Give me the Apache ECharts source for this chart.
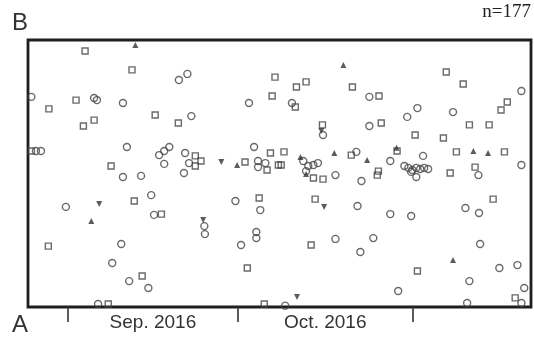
<!DOCTYPE html>
<html>
<head>
<meta charset="utf-8">
<script src="https://cdn.jsdelivr.net/npm/echarts@6/dist/echarts.min.js"></script>
<style>
  html, body { margin: 0; padding: 0; background: #fff; }
  #chart { width: 534px; height: 340px; }
</style>
</head>
<body>
<div id="chart"></div>
<script>
var chart = echarts.init(document.getElementById('chart'));

// x = days from 1 Sep 2016, y = position between A (0) and B (100)
const monthTicks = [0, 30, 61];
const monthLabelPos = [15, 45.5];
const monthLabels = ['Sep. 2016', 'Oct. 2016'];

const circles = [
  [-6.5, 78.7], [4.6, 78.3], [5.1, 77.5], [9.7, 76.4], [-5.7, 58.4], [-4.8, 58.4],
  [10.4, 59.9], [19.6, 85.0], [21.1, 87.3], [32.0, 76.4], [21.8, 71.5], [32.9, 59.9],
  [16.1, 56.9], [17.0, 58.4], [17.9, 59.9], [20.7, 57.7], [21.4, 53.9], [17.0, 53.6],
  [20.5, 50.2], [33.6, 54.7], [34.9, 53.9], [33.6, 52.4], [53.3, 78.7], [39.6, 76.4],
  [60.0, 71.2], [45.1, 64.4], [53.3, 67.8], [41.6, 54.7], [42.5, 52.8], [43.4, 53.2],
  [44.2, 53.9], [42.1, 50.9], [51.0, 58.1], [57.0, 54.7], [59.5, 52.8], [80.2, 80.9],
  [61.8, 74.5], [68.1, 73.0], [62.8, 56.6], [80.2, 53.2], [60.2, 52.1], [60.9, 51.3],
  [61.6, 52.1], [62.3, 51.7], [63.0, 52.1], [63.7, 51.7], [60.7, 50.6], [61.6, 48.7],
  [9.7, 48.7], [12.9, 49.1], [14.7, 41.9], [-0.4, 37.5], [15.2, 34.5], [9.4, 23.6],
  [7.8, 16.5], [10.8, 9.7], [14.2, 7.1], [5.3, 1.1], [29.6, 39.7], [34.0, 36.3],
  [24.1, 30.3], [24.2, 27.3], [33.3, 28.1], [33.3, 25.8], [30.6, 23.2], [47.3, 49.4],
  [51.9, 47.2], [51.2, 37.8], [57.0, 34.8], [47.3, 25.5], [54.0, 25.8], [51.7, 20.6],
  [58.4, 6.0], [38.4, 0.5], [72.6, 49.4], [70.3, 37.1], [72.7, 35.2], [60.7, 34.1],
  [72.9, 23.6], [76.3, 14.6], [79.5, 15.7], [71.0, 9.7], [80.7, 7.1], [80.2, 1.5],
  [70.6, 1.5]
];

const squares = [
  [3.0, 95.9], [11.3, 88.8], [1.4, 77.5], [-3.4, 74.2], [4.6, 70.0], [2.7, 67.8],
  [15.4, 71.9], [-6.5, 58.4], [7.6, 52.8], [36.6, 86.1], [36.1, 79.0], [19.5, 68.9],
  [35.8, 57.7], [22.5, 56.6], [23.5, 54.7], [22.5, 52.8], [31.3, 54.3], [35.2, 51.3],
  [37.2, 53.2], [40.4, 82.4], [42.1, 84.3], [50.3, 82.4], [55.0, 79.0], [40.2, 74.9],
  [45.0, 68.2], [55.4, 68.9], [38.2, 58.1], [37.7, 53.2], [50.1, 56.9], [54.9, 50.9],
  [58.2, 58.4], [66.9, 88.0], [69.9, 83.5], [77.7, 76.8], [76.6, 73.8], [71.0, 68.2],
  [74.5, 68.2], [61.4, 64.4], [66.4, 63.3], [68.7, 58.1], [77.2, 58.1], [72.0, 52.4],
  [67.6, 50.2], [11.7, 39.7], [-3.5, 22.8], [13.1, 11.6], [7.1, 1.1], [16.5, 34.8],
  [33.8, 40.8], [31.7, 14.6], [34.7, 1.1], [43.4, 48.3], [45.1, 47.9], [54.7, 49.4],
  [43.7, 40.4], [43.0, 23.2], [75.2, 40.4], [61.8, 13.5], [79.1, 3.4]
];

const upTriangles = [
  [11.9, 98.1], [29.9, 53.2], [48.7, 90.6], [41.1, 56.2], [47.1, 57.7], [52.9, 55.1],
  [58.1, 59.6], [71.7, 58.4], [74.3, 57.7], [4.1, 32.2], [68.1, 17.6], [42.1, 49.8]
];

const downTriangles = [
  [27.1, 54.3], [44.8, 65.9], [5.5, 38.6], [23.9, 32.6], [45.3, 37.5], [40.5, 3.7]
];

var hollow = {
  color: 'rgba(0,0,0,0)',
  borderColor: '#444',
  borderWidth: 1.4
};

var option = {
  backgroundColor: '#fff',
  animation: false,
  grid: {
    left: 28, right: 3, top: 40, bottom: 33,
    show: true,
    borderColor: '#1e1e1e',
    borderWidth: 2.8
  },
  xAxis: {
    type: 'value',
    min: -7.1,
    max: 81.9,
    splitLine: { show: false },
    axisLine: { show: false },
    axisTick: {
      show: true,
      customValues: monthTicks,
      length: 15,
      lineStyle: { color: '#333', width: 1.6 }
    },
    axisLabel: {
      customValues: monthLabelPos,
      margin: 6,
      color: '#333',
      fontSize: 19,
      fontFamily: 'Liberation Sans, Arial, sans-serif',
      formatter: function (v) {
        return monthLabels[monthLabelPos.indexOf(v)];
      }
    }
  },
  yAxis: {
    type: 'value',
    min: 0,
    max: 100,
    show: false
  },
  graphic: [
    { type: 'text', left: 12, top: 11, style: { text: 'B', fontSize: 24, fill: '#333', fontFamily: 'Liberation Sans, Arial, sans-serif' } },
    { type: 'text', left: 12, top: 313, style: { text: 'A', fontSize: 24, fill: '#333', fontFamily: 'Liberation Sans, Arial, sans-serif' } },
    { type: 'text', right: 3, top: 3, style: { text: 'n=177', fontSize: 19, fill: '#222', fontFamily: 'Liberation Serif, Times New Roman, serif' } }
  ],
  series: [{
    name: 'circle',
    type: 'scatter',
    symbol: 'circle',
    symbolSize: 7,
    itemStyle: hollow,
    data: circles
  }, {
    name: 'square',
    type: 'scatter',
    symbol: 'rect',
    symbolSize: 6,
    itemStyle: hollow,
    data: squares
  }, {
    name: 'up',
    type: 'scatter',
    symbol: 'triangle',
    symbolSize: 6,
    itemStyle: { color: '#333' },
    data: upTriangles
  }, {
    name: 'down',
    type: 'scatter',
    symbol: 'triangle',
    symbolRotate: 180,
    symbolSize: 6,
    itemStyle: { color: '#333' },
    data: downTriangles
  }]
};

chart.setOption(option);
</script>
</body>
</html>
